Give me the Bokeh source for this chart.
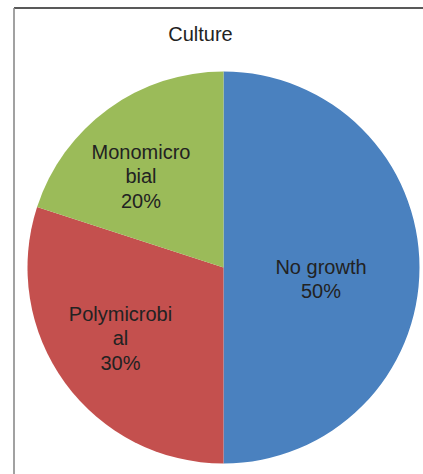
import math
from bokeh.plotting import figure
from bokeh.models import Range1d, ColumnDataSource
from bokeh.core.properties import value
from bokeh.embed import file_html
from bokeh.resources import INLINE

# ---- data ----
title = "Culture"
categories = ["No growth", "Polymicrobial", "Monomicrobial"]
label_lines = [["No growth"], ["Polymicrobi", "al"], ["Monomicro", "bial"]]
values = [50, 30, 20]
colors = ["#4A81BF", "#C4504E", "#9BBB59"]

W, H = 423, 474
cx, cy, r = 223, H - 267, 196
label_pos = [(320.5, 266), (120, 313), (140.5, 151)]  # pixel x, first-line baseline (from top)
line_h = 24.5

p = figure(width=W, height=H, output_backend="svg", toolbar_location=None,
           x_range=Range1d(0, W), y_range=Range1d(0, H), min_border=0)
p.axis.visible = False
p.grid.visible = False
p.outline_line_color = None
p.background_fill_color = "white"
p.border_fill_color = "white"

# frame lines
p.segment(x0=[13.5], y0=[H - 7.5], x1=[W], y1=[H - 7.5], line_color="#222222", line_width=1.6)
p.segment(x0=[13.5], y0=[H - 7.5], x1=[13.5], y1=[0], line_color="#8a8a8a", line_width=1.6)

total = sum(values)
starts, ends = [], []
cum = 0
for v in values:
    a0 = math.pi / 2 - 2 * math.pi * (cum + v) / total
    a1 = math.pi / 2 - 2 * math.pi * cum / total
    starts.append(a0)
    ends.append(a1)
    cum += v

src = ColumnDataSource(dict(start=starts, end=ends, color=colors, cat=categories))
p.wedge(x=cx, y=cy, radius=r, start_angle="start", end_angle="end",
        fill_color="color", line_color=None, source=src)

tx, ty, tt = [], [], []
for lines, v, (lx, ly) in zip(label_lines, values, label_pos):
    all_lines = lines + [f"{round(100 * v / total)}%"]
    for i, t in enumerate(all_lines):
        tx.append(lx)
        ty.append(H - (ly + i * line_h))
        tt.append(t)
p.text(x=tx, y=ty, text=tt, text_font=value("Liberation Sans"), text_font_size="20px",
       text_align="center", text_baseline="alphabetic", text_color="#222222")

p.text(x=[200], y=[H - 33], text=[title], text_font=value("Liberation Sans"),
       text_font_size="20px", text_align="center", text_baseline="alphabetic",
       text_color="#222222")

open("out.html", "w").write(file_html(p, INLINE))
